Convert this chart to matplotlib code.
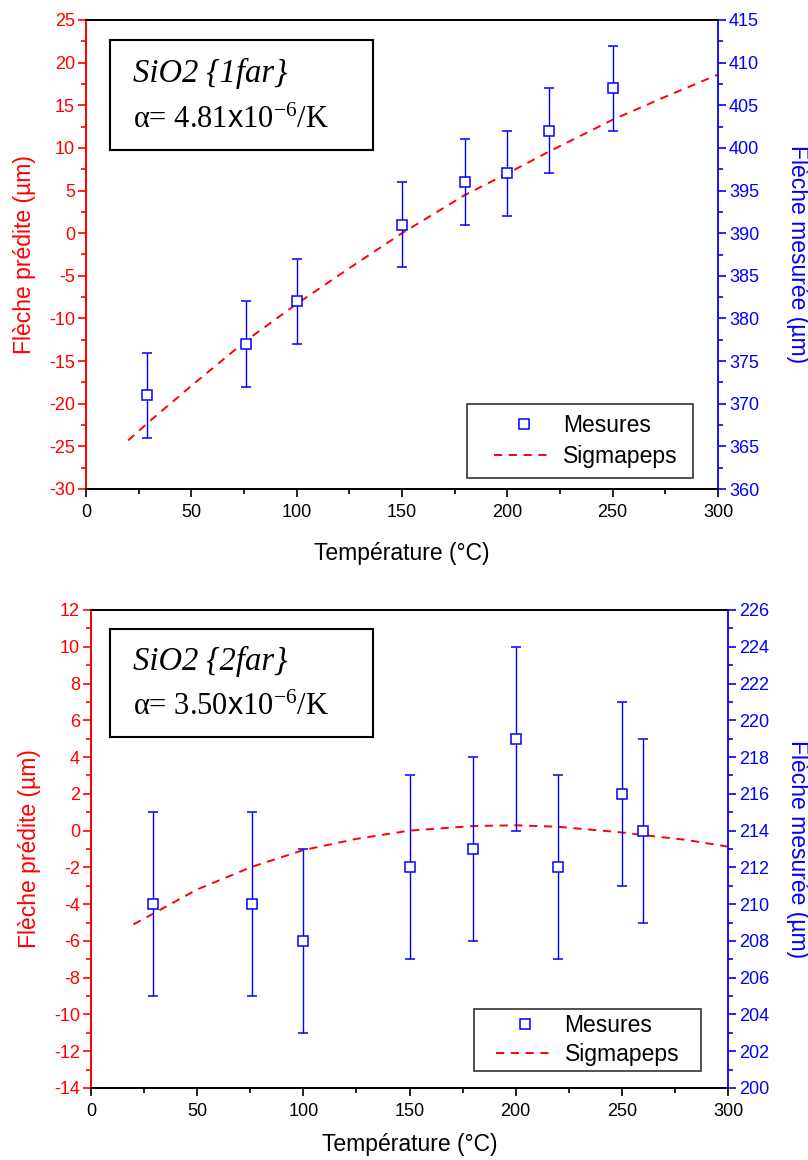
import matplotlib
matplotlib.use("Agg")
import matplotlib.pyplot as plt
from matplotlib.ticker import MultipleLocator
from matplotlib.lines import Line2D
from matplotlib.legend_handler import HandlerLine2D

plt.rcParams['font.family'] = ['Liberation Sans', 'DejaVu Sans']
plt.rcParams['mathtext.fontset'] = 'custom'
plt.rcParams['mathtext.rm'] = 'Liberation Serif'
plt.rcParams['mathtext.it'] = 'Liberation Serif:italic'
plt.rcParams['mathtext.sf'] = 'Liberation Sans'
plt.rcParams['axes.unicode_minus'] = False

# ---- data: panel 1 (SiO2 {1far}) ----
temp_meas_1 = [29, 76, 100, 150, 180, 200, 220, 250]
fleche_meas_1 = [371, 377, 382, 391, 396, 397, 402, 407]
err_meas_1 = [5, 5, 5, 5, 5, 5, 5, 5]
temp_sim_1 = [20, 30, 50, 76, 100, 125, 150, 180, 200, 220, 250, 275, 300]
fleche_sim_1 = [-24.3, -22.1, -17.9, -12.6, -8.3, -4.1, 0.0, 4.5, 7.0, 9.6, 13.3, 16.0, 18.6]

# ---- data: panel 2 (SiO2 {2far}) ----
temp_meas_2 = [29, 76, 100, 150, 180, 200, 220, 250, 260]
fleche_meas_2 = [210, 210, 208, 212, 213, 219, 212, 216, 214]
err_meas_2 = [5, 5, 5, 5, 5, 5, 5, 5, 5]
temp_sim_2 = [20, 28, 50, 76, 100, 125, 150, 180, 200, 220, 250, 260, 280, 300]
fleche_sim_2 = [-5.1, -4.6, -3.2, -1.96, -1.06, -0.45, 0.0, 0.25, 0.29, 0.21, -0.1, -0.24, -0.5, -0.87]

W, H = 808, 1160

panels = [
    dict(rect=[86, 20, 718, 489], ylim=(-30, 25), y2lim=(360, 415),
         ymaj=5, ymin=2.5, tm=temp_meas_1, fm=fleche_meas_1, em=err_meas_1,
         ts=temp_sim_1, fs=fleche_sim_1, title='SiO2 {1far}', alpha='4.81',
         box=(110, 40, 263, 110), leg=(467, 404, 226), legpad=0.45, legsp=0.32,
         xlabpad=15, lylab=25, rylab=797),
    dict(rect=[91, 610, 728, 1088], ylim=(-14, 12), y2lim=(200, 226),
         ymaj=2, ymin=1, tm=temp_meas_2, fm=fleche_meas_2, em=err_meas_2,
         ts=temp_sim_2, fs=fleche_sim_2, title='SiO2 {2far}', alpha='3.50',
         box=(110, 629, 263, 108), leg=(474, 1009, 227), legpad=0.2, legsp=0.3,
         xlabpad=9, lylab=30, rylab=797),
]

fig = plt.figure(figsize=(W / 100, H / 100), dpi=100)

red = '#ff0000'
blue = '#0000ff'
dash = (0, (4.2, 3.4))
FS = 16.5

for p in panels:
    x0, y0, x1, y1 = p['rect']
    ax = fig.add_axes([x0 / W, 1 - y1 / H, (x1 - x0) / W, (y1 - y0) / H])
    ax2 = ax.twinx()
    ax.set_xlim(0, 300)
    ax.set_ylim(*p['ylim'])
    ax2.set_ylim(*p['y2lim'])

    ax.plot(p['ts'], p['fs'], color=red, ls=dash, lw=1.4)
    ax2.errorbar(p['tm'], p['fm'], yerr=p['em'], fmt='s', ms=6.8, mfc='white',
                 mec=blue, mew=1.1, ecolor=blue, elinewidth=1.0, capsize=3.4,
                 capthick=1.0, zorder=3)

    ax.xaxis.set_major_locator(MultipleLocator(50))
    ax.xaxis.set_minor_locator(MultipleLocator(25))
    ax.yaxis.set_major_locator(MultipleLocator(p['ymaj']))
    ax.yaxis.set_minor_locator(MultipleLocator(p['ymin']))
    ax2.yaxis.set_major_locator(MultipleLocator(p['ymaj']))
    ax2.yaxis.set_minor_locator(MultipleLocator(p['ymin']))

    for a in (ax, ax2):
        for s in a.spines.values():
            s.set_linewidth(1.3)
    ax.spines['left'].set_color(red)
    ax2.spines['left'].set_color(red)
    ax2.spines['right'].set_color(blue)
    ax.spines['right'].set_visible(False)

    ax.tick_params(axis='x', which='major', direction='out', length=6, width=1.2,
                   labelsize=13, colors='black', pad=5)
    ax.tick_params(axis='x', which='minor', direction='out', length=3.5, width=1.2)
    ax.tick_params(axis='y', which='major', direction='out', length=6, width=1.2,
                   labelsize=13, colors=red, pad=2)
    ax.tick_params(axis='y', which='minor', direction='out', length=3.5, width=1.2, colors=red)
    ax2.tick_params(axis='y', which='major', direction='out', length=6, width=1.2,
                    labelsize=13, colors=blue, pad=2)
    ax2.tick_params(axis='y', which='minor', direction='out', length=3.5, width=1.2, colors=blue)

    ax.set_xlabel('Température (°C)', fontsize=FS, labelpad=p['xlabpad'])
    ax.set_ylabel('Flèche prédite (µm)', fontsize=FS, color=red,
                  ha='center', va='center', rotation_mode='anchor')
    ax.yaxis.set_label_coords(p['lylab'] / W, 1 - (y0 + y1) / 2 / H,
                              transform=fig.transFigure)
    ax2.set_ylabel('Flèche mesurée (µm)', fontsize=FS, color=blue, rotation=270,
                   ha='center', va='center', rotation_mode='anchor')
    ax2.yaxis.set_label_coords(p['rylab'] / W, 1 - (y0 + y1) / 2 / H,
                               transform=fig.transFigure)

    # text box
    bx, by, bw, bh = p['box']
    tb = fig.add_axes([bx / W, 1 - (by + bh) / H, bw / W, bh / H])
    tb.set_xticks([]); tb.set_yticks([])
    tb.set_facecolor('white')
    for s in tb.spines.values():
        s.set_linewidth(1.5)
        s.set_color('black')
    tb.text(0.087, 0.70, p['title'], transform=tb.transAxes, fontsize=23.5,
            family='Liberation Serif', style='italic', va='center', ha='left')
    tb.text(0.087, 0.27, 'α= ' + p['alpha'] + r'$\mathsf{x}$' + '10' + r'$^{-6}$' + '/K',
            transform=tb.transAxes, fontsize=22, family='Liberation Serif',
            va='center', ha='left')

    # legend
    lx, ly, lw = p['leg']
    h_meas = Line2D([], [], ls='none', marker='s', ms=6.8, mfc='white', mec=blue, mew=1.1)
    h_sim = Line2D([], [], color=red, ls=dash, lw=1.4)
    leg = ax2.legend([h_meas, h_sim], ['Mesures', 'Sigmapeps'], loc='upper left',
                     bbox_to_anchor=(lx / W, 1 - ly / H, lw / W, 0.0),
                     bbox_transform=fig.transFigure, mode='expand', fontsize=FS,
                     frameon=True, fancybox=False, edgecolor='black',
                     handlelength=3.3, handletextpad=0.45, borderpad=p['legpad'],
                     labelspacing=p['legsp'], borderaxespad=0,
                     handler_map={h_meas: HandlerLine2D(xpad=0.75),
                                  h_sim: HandlerLine2D(xpad=0.75)})
    leg.get_frame().set_linewidth(1.2)

fig.savefig('out.png', dpi=100)
